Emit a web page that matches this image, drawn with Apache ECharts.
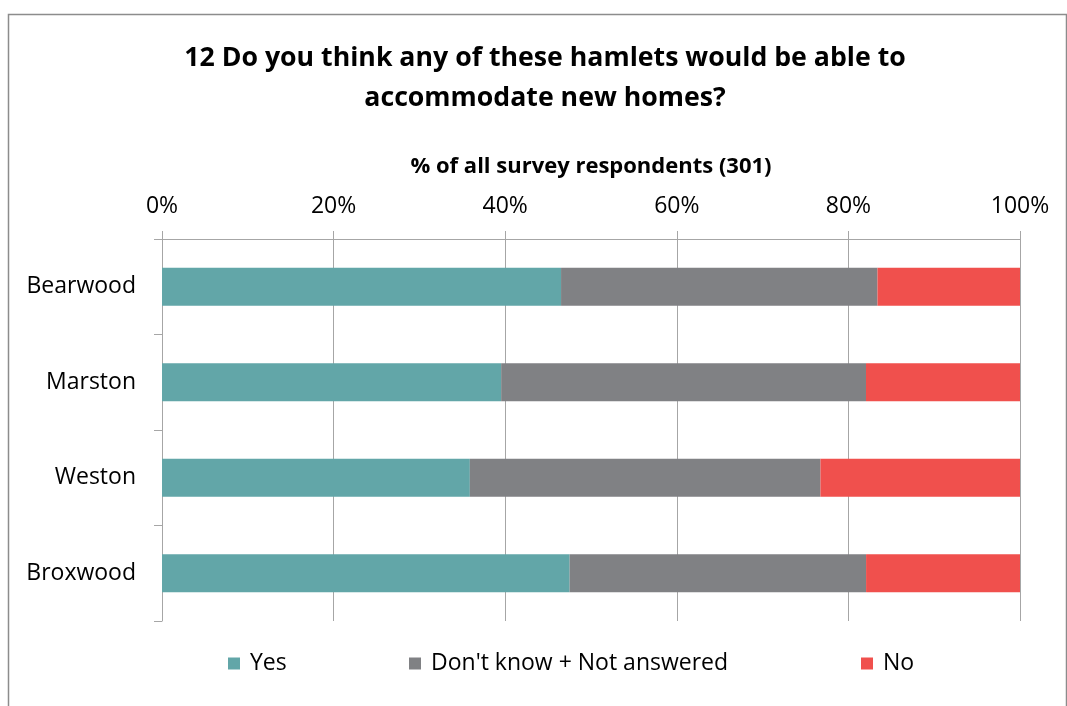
<!DOCTYPE html>
<html><head><meta charset="utf-8">
<script src="https://cdn.jsdelivr.net/npm/echarts@6/dist/echarts.min.js"></script>
<style>html,body{margin:0;padding:0;background:#fff}#c{width:1067px;height:706px}</style>
</head><body><div id="c"></div>
<script>
const categories = ['Bearwood', 'Marston', 'Weston', 'Broxwood'];
const yesValues = [46.51, 39.53, 35.88, 47.51];
const dontKnowValues = [36.88, 42.52, 40.86, 34.55];
const noValues = [16.61, 17.95, 23.26, 17.94];
const seriesNames = ['Yes', "Don't know + Not answered", 'No'];
const xTicks = [0, 20, 40, 60, 80, 100];

const FONT = 'Open Sans';
const colors = ['#62A6A8', '#808184', '#F0504D'];
const chart = echarts.init(document.getElementById('c'), null, {renderer: 'canvas'});
const legendBase = {
  orient: 'horizontal', icon: 'rect', itemWidth: 12, itemHeight: 12, itemGap: 0,
  top: 647, textStyle: {fontFamily: FONT, fontSize: 23, color: '#000', padding: [0,0,0,5]}
};
chart.setOption({
  animation: false,
  color: colors,
  graphic: [{
    type: 'rect', shape: {x: 8.5, y: 14.5, width: 1058, height: 720},
    style: {fill: 'none', stroke: '#8C8C8C', lineWidth: 1.5}, silent: true
  }],
  title: {
    text: '12 Do you think any of these hamlets would be able to\naccommodate new homes?',
    left: 540, textAlign: 'center', top: 33,
    textStyle: {fontFamily: FONT, fontSize: 26.7, fontWeight: 'bold', color: '#000', lineHeight: 40}
  },
  legend: [
    Object.assign({}, legendBase, {left: 223, data: [seriesNames[0]]}),
    Object.assign({}, legendBase, {left: 404, data: [seriesNames[1]]}),
    Object.assign({}, legendBase, {left: 856, data: [seriesNames[2]]})
  ],
  grid: {left: 162, right: 47, top: 239, bottom: 85, containLabel: false},
  xAxis: {
    type: 'value', position: 'top', min: 0, max: 100, interval: 20,
    name: '% of all survey respondents (301)', nameLocation: 'middle', nameGap: 61,
    nameTextStyle: {fontFamily: FONT, fontSize: 22, fontWeight: 'bold', color: '#000'},
    axisLine: {show: true, lineStyle: {color: '#A6A6A6', width: 1}},
    axisTick: {show: true, length: 8, lineStyle: {color: '#A6A6A6', width: 1}},
    axisLabel: {formatter: '{value}%', fontFamily: FONT, fontSize: 23, color: '#000', margin: 21},
    splitLine: {show: true, lineStyle: {color: '#A6A6A6', width: 1}}
  },
  yAxis: {
    type: 'category', data: categories, inverse: true,
    axisLine: {show: true, lineStyle: {color: '#A6A6A6', width: 1}},
    axisTick: {show: true, length: 8, alignWithLabel: false, lineStyle: {color: '#A6A6A6', width: 1}},
    axisLabel: {fontFamily: FONT, fontSize: 23, color: '#000', margin: 26},
    splitLine: {show: false}
  },
  series: [
    {name: seriesNames[0], type: 'bar', stack: 'total', data: yesValues, barWidth: '40%'},
    {name: seriesNames[1], type: 'bar', stack: 'total', data: dontKnowValues, barWidth: '40%'},
    {name: seriesNames[2], type: 'bar', stack: 'total', data: noValues, barWidth: '40%'}
  ]
});
</script></body></html>
